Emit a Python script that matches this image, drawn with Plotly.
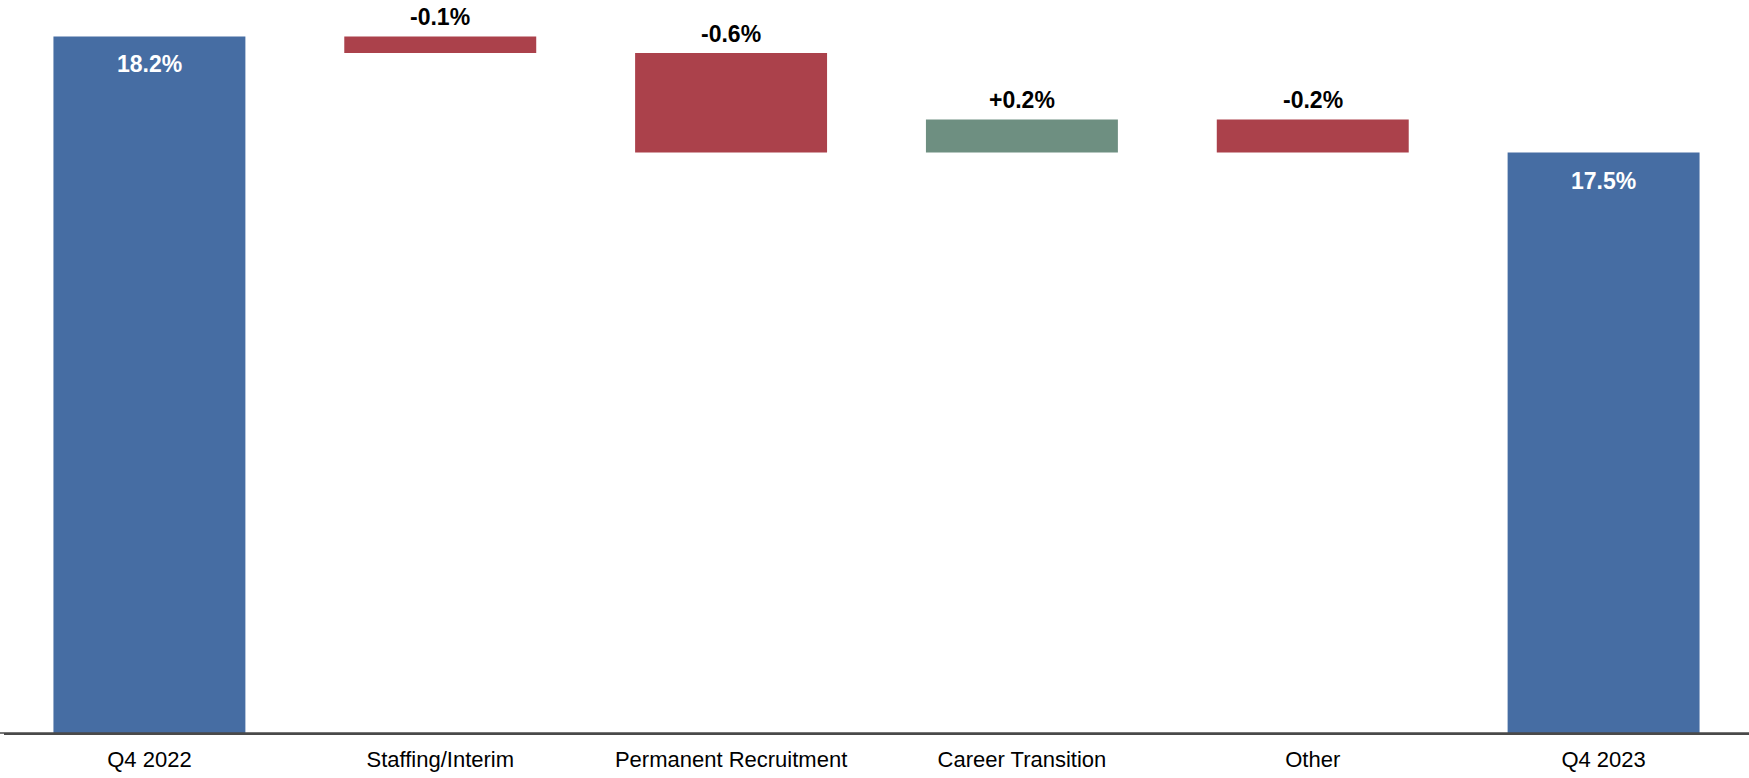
import plotly.graph_objects as go

categories = ["Q4 2022", "Staffing/Interim", "Permanent Recruitment", "Career Transition", "Other", "Q4 2023"]
values = [18.2, -0.1, -0.6, 0.2, -0.2, 17.5]
measures = ["absolute", "relative", "relative", "relative", "relative", "total"]
labels = ["18.2%", "-0.1%", "-0.6%", "+0.2%", "-0.2%", "17.5%"]

BLUE = "#466DA3"
RED = "#AB414B"
GREEN = "#6E8F81"

fig = go.Figure(go.Waterfall(
    x=categories, y=values, measure=measures,
    increasing=dict(marker=dict(color=GREEN)),
    decreasing=dict(marker=dict(color=RED)),
    totals=dict(marker=dict(color=BLUE)),
    connector=dict(visible=False),
    textposition="none",
    hoverinfo="skip",
))

# annotations: totals inside near top (white), deltas above the bar (black)
running = 0.0
annotations = []
for cat, v, m, lab in zip(categories, values, measures, labels):
    if m == "absolute":
        running = v
        annotations.append(dict(x=cat, y=v, text=f"<b>{lab}</b>", showarrow=False,
                                yanchor="middle", yshift=-28,
                                font=dict(color="white", size=23, family="Liberation Sans, Arial")))
    elif m == "total":
        annotations.append(dict(x=cat, y=running, text=f"<b>{lab}</b>", showarrow=False,
                                yanchor="middle", yshift=-28,
                                font=dict(color="white", size=23, family="Liberation Sans, Arial")))
    else:
        top = max(running, running + v)
        running += v
        annotations.append(dict(x=cat, y=top, text=f"<b>{lab}</b>", showarrow=False,
                                yanchor="middle", yshift=19,
                                font=dict(color="black", size=23, family="Liberation Sans, Arial")))

fig.update_layout(
    width=1749, height=778,
    margin=dict(l=4, r=0, t=0, b=45),
    paper_bgcolor="white", plot_bgcolor="white",
    showlegend=False,
    waterfallgap=0.34,
    annotations=annotations,
    font=dict(family="Liberation Sans, Arial", color="black"),
)
fig.update_xaxes(showline=True, linecolor="#4a4a4a", linewidth=1.5, showgrid=False,
                 ticks="", tickfont=dict(size=22, color="black"), ticklabelstandoff=6,
                 fixedrange=True)
fig.update_yaxes(range=[14.0, 18.42], visible=False, showgrid=False, zeroline=False)

# extend the baseline across the full width like the reference
fig.add_shape(type="line", xref="paper", yref="paper", x0=-0.01, x1=1, y0=0, y1=0,
              line=dict(color="#4a4a4a", width=1.5), layer="above")

fig.write_html("out.html")
